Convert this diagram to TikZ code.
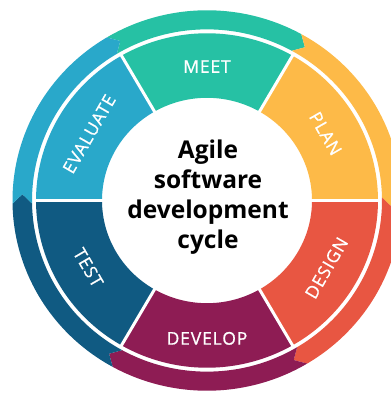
\documentclass[tikz,border=0pt]{standalone}
\usepackage{fontspec}
\setmainfont{Open Sans}
\definecolor{cMeet}{RGB}{38,193,164}
\definecolor{cPlan}{RGB}{253,186,72}
\definecolor{cDesign}{RGB}{232,86,66}
\definecolor{cDevelop}{RGB}{142,28,84}
\definecolor{cTest}{RGB}{16,90,130}
\definecolor{cEval}{RGB}{41,168,202}
\begin{document}
\begin{tikzpicture}[x=1pt,y=1pt,
  seglabel/.style={text=white,font=\fontsize{17.5}{17.5}\selectfont\addfontfeatures{FakeBold=0.8,LetterSpace=5},inner sep=0pt},
  centertext/.style={font=\fontsize{24.5}{30}\selectfont\bfseries,align=center,text=black,inner sep=0pt}]
\path[use as bounding box] (0,0) rectangle (391,394);
\clip (0,0) rectangle (391,394);
\fill[white] (0,0) rectangle (391,394);
\def\rIn{105}
\def\rSeg{171}
\def\rRing{175}
\def\rOut{194.5}
\def\rMid{184.75}
\begin{scope}[shift={(207,193.5)},yscale=0.978]
  % segments
  \foreach \a/\c in {60/cMeet,0/cPlan,-60/cDesign,-120/cDevelop,-180/cTest,120/cEval}{
    \fill[\c] (\a:\rIn) -- (\a:\rSeg) arc[start angle=\a,end angle={\a+60},radius=\rSeg]
      -- ({\a+60}:\rIn) arc[start angle={\a+60},end angle=\a,radius=\rIn] -- cycle;
  }
  \foreach \a in {0,60,120,180,240,300}{
    \draw[white,line width=3pt] (\a:{\rIn-3}) -- (\a:{\rSeg+2});
  }
  % outer ring arrows
  \foreach \s/\c in {121/cMeet,61/cPlan,1/cDesign,-59/cDevelop,-119/cTest,181/cEval}{
    \fill[\c] (\s:\rOut) -- ({\s-3}:\rMid) -- (\s:\rRing)
      arc[start angle=\s,end angle={\s-60},radius=\rRing]
      -- ({\s-63}:\rMid) -- ({\s-60}:\rOut)
      arc[start angle={\s-60},end angle=\s,radius=\rOut] -- cycle;
  }
  % labels
  \node[seglabel] (meet) at (90:137) {MEET};
  \node[seglabel,rotate=-60] (plan) at (30:137) {PLAN};
  \node[seglabel,rotate=60] (design) at (-30:138) {DESIGN};
  \node[seglabel] (develop) at (-90:141) {DEVELOP};
  \node[seglabel,rotate=-60] (test) at (-150:137) {TEST};
  \node[seglabel,rotate=60] (evaluate) at (150:136) {EVALUATE};
\end{scope}
\node[centertext] (title) at (208,197) {Agile\\software\\development\\cycle};
\end{tikzpicture}
\end{document}
